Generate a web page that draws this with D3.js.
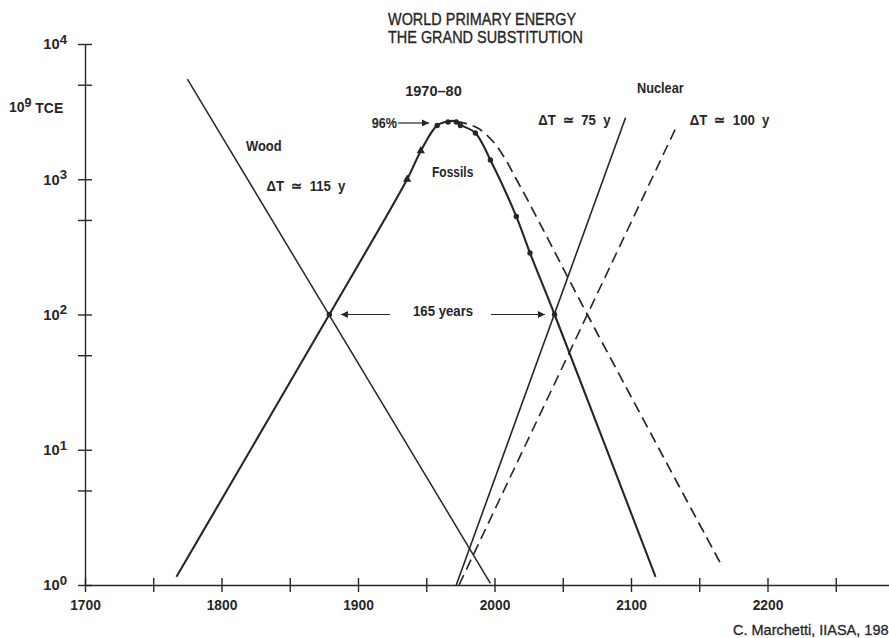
<!DOCTYPE html>
<html>
<head>
<meta charset="utf-8">
<script src="https://cdn.jsdelivr.net/npm/d3@7/dist/d3.min.js"></script>
<style>
  html, body { margin: 0; padding: 0; background: #fff; overflow: hidden; }
  svg { display: block; }
  .lbl { font-family: 'Liberation Sans', Arial, sans-serif; font-weight: bold; fill: #262626; }
</style>
</head>
<body>
<svg id="chart" width="889" height="638"></svg>
<script>
// ---- axes ----
const xMajorTicks = [1700, 1800, 1900, 2000, 2100, 2200];
const xMinorTicks = [1750, 1850, 1950, 2050, 2150, 2250];
const yMajorTicks = [1, 10, 100, 1000, 10000];
const yMinorTicks = [5, 50, 500, 5000];

// ---- series: [year, 10^9 TCE] ----
const woodLine = [[1775, 5500], [1997, 1.03]];
const fossilCurve = [
  [1767, 1.15], [1879, 100], [1936, 1000], [1946, 1620], [1958, 2500],
  [1966, 2680], [1972, 2680], [1976, 2500], [1986, 2200], [1997, 1390],
  [2016, 530], [2026, 285], [2044, 100], [2118, 1.15]
];
const fossilSlowCurve = [
  [1972, 2680], [1978, 2600], [1988, 2380], [1998, 1950], [2007, 1460],
  [2016, 1000], [2025, 680], [2068, 100], [2167, 1.36]
];
const nuclearLine = [[1972, 1.0], [2096, 2850]];
const nuclearSlowLine = [[1974, 1.0], [2134, 2530]];

// observed / projected points on the fossil curve
const fossilTriangles = [[1936, 1000], [1946, 1620]];
const fossilDots = [[1958, 2500], [1966, 2650], [1972, 2650], [1975, 2500],
                    [1986, 2200], [1997, 1390], [2016, 530], [2026, 285]];
const crossingDots = [[1879, 100], [2044, 100]];

const INK = "#262626";
const svg = d3.select("#chart");

const x = d3.scaleLinear().domain([1700, 2300]).range([85, 904]);
const y = d3.scaleLog().domain([1, 10000]).range([585, 44]);

// squeeze a text element horizontally about its own anchor point
function condense(sel, k) {
  sel.each(function (d) {
    const t = d3.select(this);
    const f = typeof k === "function" ? k(d) : k;
    const tx = +t.attr("x") || 0, ty = +t.attr("y") || 0;
    t.attr("x", 0).attr("y", 0)
     .attr("transform", `translate(${tx},${ty}) scale(${f},1)`);
  });
}

// ---- title & credits ----
svg.append("text").attr("x", 388).attr("y", 25).attr("font-size", 17)
  .attr("font-family", "'Liberation Sans', Arial, sans-serif").attr("fill", INK)
  .attr("stroke", INK).attr("stroke-width", 0.35)
  .text("WORLD PRIMARY ENERGY").call(condense, 0.85);
svg.append("text").attr("x", 388).attr("y", 43).attr("font-size", 17)
  .attr("font-family", "'Liberation Sans', Arial, sans-serif").attr("fill", INK)
  .attr("stroke", INK).attr("stroke-width", 0.35)
  .text("THE GRAND SUBSTITUTION").call(condense, 0.85);
svg.append("text").attr("x", 733).attr("y", 635).attr("font-size", 14.5)
  .attr("font-family", "'Liberation Sans', Arial, sans-serif").attr("fill", INK)
  .attr("stroke", INK).attr("stroke-width", 0.3)
  .text("C. Marchetti, IIASA, 198");

// ---- x axis ----
const xAxis = d3.axisBottom(x)
  .tickValues(xMajorTicks.concat(xMinorTicks))
  .tickFormat(d => xMajorTicks.includes(d) ? String(d) : "")
  .tickSizeInner(7).tickSizeOuter(0).tickPadding(7);
const gx = svg.append("g").attr("transform", `translate(0,${y(1)})`).call(xAxis);
gx.select(".domain").attr("stroke", INK).attr("stroke-width", 1.4);
gx.selectAll(".tick line").attr("y1", -7).attr("stroke", INK).attr("stroke-width", 1.4);
gx.selectAll(".tick text").attr("class", "lbl").attr("font-size", 15).attr("fill", INK)
  .call(condense, 0.92);

// ---- y axis ----
const yAxis = d3.axisLeft(y)
  .tickValues(yMajorTicks.concat(yMinorTicks))
  .tickFormat(() => "")
  .tickSizeInner(7).tickSizeOuter(0).tickPadding(11);
const gy = svg.append("g").attr("transform", `translate(${x(1700)},0)`).call(yAxis);
gy.select(".domain").attr("stroke", INK).attr("stroke-width", 1.4);
gy.selectAll(".tick line").attr("x1", 7).attr("stroke", INK).attr("stroke-width", 1.4);
gy.selectAll(".tick text").each(function (d) {
  if (!yMajorTicks.includes(d)) return;
  const t = d3.select(this).attr("class", "lbl").attr("font-size", 15).attr("fill", INK);
  t.append("tspan").text("10");
  t.append("tspan").attr("dy", "-0.4em").attr("font-size", 13.5).text(Math.round(Math.log10(d)));
  condense(t, 0.98);
});

// unit label
const unit = svg.append("text").attr("class", "lbl").attr("x", 9).attr("y", 112).attr("font-size", 15);
unit.append("tspan").text("10");
unit.append("tspan").attr("dy", "-0.4em").attr("font-size", 13.5).text("9");
unit.append("tspan").attr("dy", "0.4em").text(" TCE");
condense(unit, 0.93);

// ---- lines ----
const line = d3.line().x(d => x(d[0])).y(d => y(d[1]));
const smooth = d3.line().x(d => x(d[0])).y(d => y(d[1])).curve(d3.curveCatmullRom.alpha(0.5));

function draw(data, gen, width, dash) {
  svg.append("path").datum(data).attr("d", gen)
    .attr("fill", "none").attr("stroke", INK).attr("stroke-width", width)
    .attr("stroke-dasharray", dash || null).attr("stroke-linejoin", "round");
}
draw(woodLine, line, 1.5);
draw(nuclearLine, line, 1.6);
draw(nuclearSlowLine, line, 1.6, "11,6");
draw(fossilSlowCurve, smooth, 1.7, "11,6");
draw(fossilCurve, smooth, 2.1);

// ---- markers ----
svg.append("g").selectAll("circle").data(fossilDots.concat(crossingDots)).join("circle")
  .attr("cx", d => x(d[0])).attr("cy", d => y(d[1])).attr("r", 2.7).attr("fill", INK);
svg.append("g").selectAll("path").data(fossilTriangles).join("path")
  .attr("transform", d => `translate(${x(d[0])},${y(d[1])})`)
  .attr("d", d3.symbol(d3.symbolTriangle, 30)).attr("fill", INK);

// ---- arrows ----
const defs = svg.append("defs");
defs.append("marker").attr("id", "head").attr("viewBox", "0 0 10 10")
  .attr("refX", 10).attr("refY", 5).attr("markerWidth", 9).attr("markerHeight", 7)
  .attr("markerUnits", "userSpaceOnUse").attr("orient", "auto")
  .append("path").attr("d", "M0,0L10,5L0,10Z").attr("fill", INK);

const arrows = [
  { from: [1929.5, 2606], to: [1952, 2606] },
  { from: [1923.4, 100], to: [1887.5, 100] },
  { from: [1997.4, 100], to: [2037, 100] }
];
svg.append("g").selectAll("line").data(arrows).join("line")
  .attr("x1", d => x(d.from[0])).attr("y1", d => y(d.from[1]))
  .attr("x2", d => x(d.to[0])).attr("y2", d => y(d.to[1]))
  .attr("stroke", INK).attr("stroke-width", 1.2).attr("marker-end", "url(#head)");

// ---- annotations, anchored in data space ----
const notes = [
  { text: "Wood", at: [1818, 1620], anchor: "start", dy: 0, k: 0.86, ws: 0 },
  { text: "\u0394T \u2243 115 y", at: [1833, 820], anchor: "start", dy: 0, k: 0.88, ws: 4 },
  { text: "1970\u201380", at: [1955.3, 4130], anchor: "middle", dy: 0, k: 0.97, ws: 0 },
  { text: "96%", at: [1928.6, 2606], anchor: "end", dy: 5, k: 0.84, ws: 0 },
  { text: "Fossils", at: [1954.2, 1040], anchor: "start", dy: 0, k: 0.8, ws: 0 },
  { text: "Nuclear", at: [2104.4, 4350], anchor: "start", dy: 0, k: 0.85, ws: 0 },
  { text: "\u0394T \u2243 75 y", at: [2032, 2520], anchor: "start", dy: 0, k: 0.88, ws: 4 },
  { text: "\u0394T \u2243 100 y", at: [2143, 2520], anchor: "start", dy: 0, k: 0.88, ws: 4 },
  { text: "165 years", at: [1962.3, 100], anchor: "middle", dy: 1, k: 0.88, ws: 0 }
];
svg.append("g").selectAll("text").data(notes).join("text")
  .attr("class", "lbl").attr("font-size", 15)
  .attr("x", d => x(d.at[0])).attr("y", d => y(d.at[1]) + d.dy)
  .attr("word-spacing", d => d.ws)
  .attr("text-anchor", d => d.anchor).text(d => d.text)
  .call(condense, d => d.k);
</script>
</body>
</html>
